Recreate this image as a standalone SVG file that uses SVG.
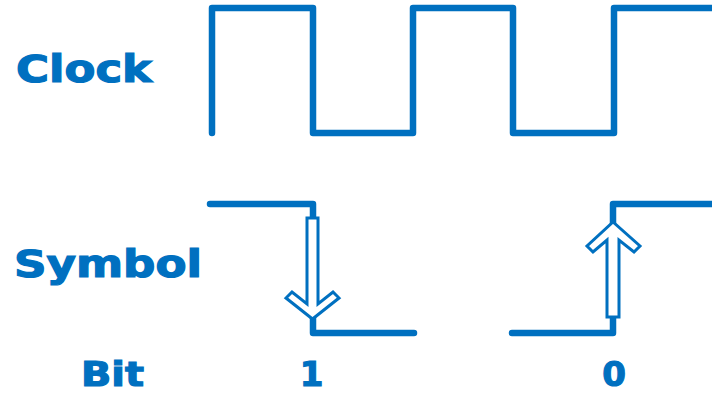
<svg xmlns="http://www.w3.org/2000/svg" width="712" height="395" viewBox="0 0 712 395">
<style>
.wave{fill:none;stroke:#0070C0;stroke-width:6.5;stroke-linecap:round;stroke-linejoin:round}
.arrow{fill:#ffffff;stroke:#0070C0;stroke-width:3;stroke-linejoin:miter}
.lbl{font-family:"DejaVu Sans",Verdana,sans-serif;font-weight:bold;font-size:37px;fill:#0070C0;stroke:#0070C0;stroke-width:1.2}
.bot{font-size:34px}
</style>
<rect width="712" height="395" fill="#ffffff"/>
<g id="labels">
<text class="lbl" x="16" y="82" textLength="136" lengthAdjust="spacingAndGlyphs">Clock</text>
<text class="lbl" x="14" y="277" textLength="188" lengthAdjust="spacingAndGlyphs">Symbol</text>
<text class="lbl bot" x="81" y="386" textLength="63" lengthAdjust="spacingAndGlyphs">Bit</text>
<text class="lbl bot" x="311.5" y="386" text-anchor="middle">1</text>
<text class="lbl bot" x="614" y="386" text-anchor="middle">0</text>
</g>
<g id="clock">
<path class="wave" d="M212,133 V8 H313 V133 H413 V8 H513 V133 H614 V8 H715"/>
</g>
<g id="symbol">
<path class="wave" d="M210,204 H313 V333 H414"/>
<path class="wave" d="M512,333 H613 V204 H715"/>
</g>
<g id="arrows">
<polygon class="arrow" points="307,218 318,218 318,304 333,292 339,298 312.5,319 286,298 292,292 307,304"/>
<polygon class="arrow" points="607,317 619,317 619,240 634,252 640,246 613,222 587,246 593,252 607,240"/>
</g>
</svg>
